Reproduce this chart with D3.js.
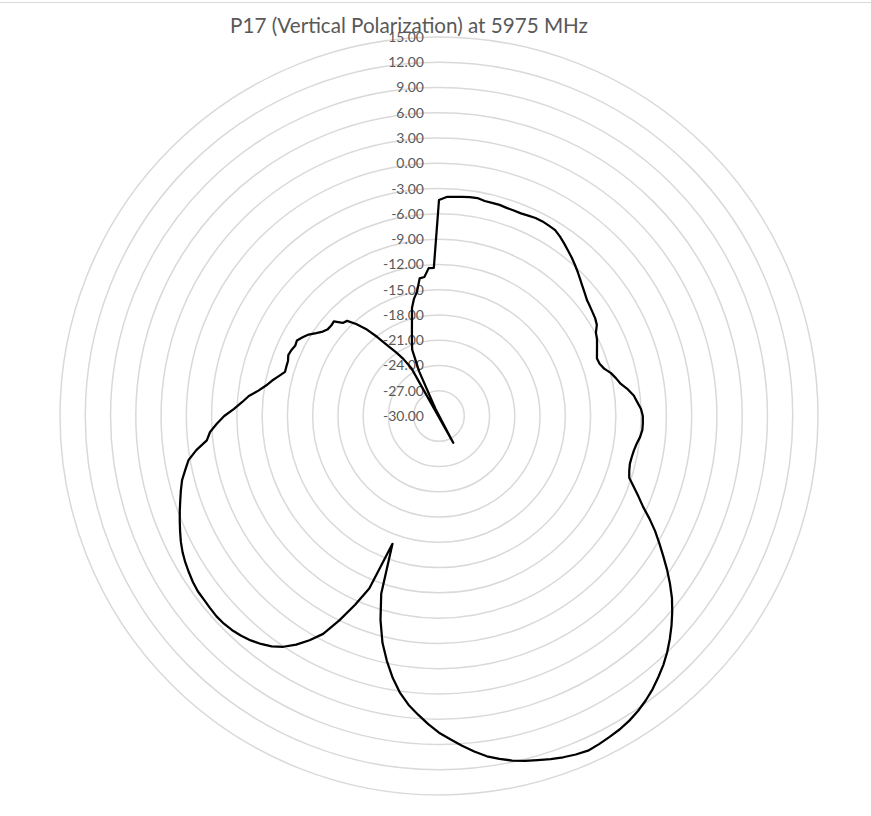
<!DOCTYPE html>
<html>
<head>
<meta charset="utf-8">
<script src="https://cdn.jsdelivr.net/npm/d3@7"></script>
<style>
  body { margin: 0; background: #fff; }
  svg { display: block; }
</style>
</head>
<body>
<svg id="chart" width="871" height="816"></svg>
<script>
// ---------- data ----------
const chartTitle = "P17 (Vertical Polarization) at 5975 MHz";
const tickValues = [-30, -27, -24, -21, -18, -15, -12, -9, -6, -3, 0, 3, 6, 9, 12, 15];
const tickLabels = ["-30.00", "-27.00", "-24.00", "-21.00", "-18.00", "-15.00", "-12.00", "-9.00",
                    "-6.00", "-3.00", "0.00", "3.00", "6.00", "9.00", "12.00", "15.00"];
// azimuth categories (degrees), 2° steps
const angles = d3.range(0, 360, 2);
// gain (dB) per azimuth
const gain = [
  -4.35, -3.98, -3.92, -3.85, -3.76, -3.72, -3.9, -3.93, -3.92, -4.02,
  -4.04, -4.05, -3.95, -3.85, -3.83, -3.9, -3.97, -4.3, -4.7, -5.1,
  -5.47, -5.87, -6.27, -6.68, -7.06, -7.38, -7.69, -7.85, -8.0, -8.13,
  -8.36, -8.9, -9.13, -9.46, -9.77, -10.04, -9.95, -9.6, -8.95, -8.5,
  -8.08, -7.35, -6.75, -6.4, -6.0, -5.8, -5.78, -5.8, -6.0, -6.3,
  -6.5, -6.6, -6.64, -6.5, -6.25, -5.4, -4.45, -3.47, -2.2, -0.95,
  0.2, 1.4, 2.67, 3.9, 5.1, 6.15, 7.15, 8.1, 9.0, 9.8,
  10.5, 11.18, 11.75, 12.25, 12.65, 12.95, 13.15, 13.35, 13.5, 13.35,
  13.12, 12.85, 12.5, 12.2, 11.82, 11.35, 10.8, 10.05, 9.25, 8.4,
  7.6, 6.6, 5.55, 4.5, 3.2, 1.6, -0.25, -2.25, -4.8, -7.8,
  -13.85, -7.9, -5.44, -3.0, -0.7, 0.75, 2.0, 3.05, 3.8, 4.35,
  4.78, 5.1, 5.35, 5.5, 5.55, 5.48, 5.42, 5.4, 5.25, 5.02,
  4.78, 4.48, 4.1, 3.65, 3.2, 2.75, 2.3, 1.88, 1.44, 0.8,
  0.2, -0.9, -2.28, -2.75, -3.6, -4.5, -5.65, -6.55, -7.3, -8.35,
  -9.15, -9.75, -10.4, -10.98, -10.95, -10.92, -10.7, -10.8, -11.0, -10.9,
  -11.3, -11.75, -12.4, -12.95, -13.25, -13.3, -13.2, -14.1, -14.3, -15.3,
  -16.5, -18.1, -19.7, -20.9, -22.0, -23.5, -33.6, -29.0, -24.2, -21.5,
  -20.6, -19.6, -18.35, -16.75, -15.75, -15.0, -13.5, -13.4, -12.4, -12.4
];

// ---------- layout ----------
const W = 871, H = 816;
const cx = 439, cy = 416, R = 379;
const gridColor = "#d9d9d9";
const textColor = "#595959";
const fontFamily = "Lato, 'Open Sans', 'DejaVu Sans', sans-serif";

const svg = d3.select("#chart");

// top border line
svg.append("line")
  .attr("x1", 0).attr("x2", W).attr("y1", 2.5).attr("y2", 2.5)
  .attr("stroke", gridColor).attr("stroke-width", 1);

const rScale = d3.scaleLinear().domain([tickValues[0], tickValues[tickValues.length - 1]]).range([0, R]);
const aScale = d3.scaleLinear().domain([0, 360]).range([0, 2 * Math.PI]);

const g = svg.append("g").attr("transform", `translate(${cx},${cy})`);

// gridline rings
g.append("g").selectAll("circle")
  .data(tickValues.slice(1))
  .join("circle")
  .attr("r", d => rScale(d))
  .attr("fill", "none")
  .attr("stroke", gridColor)
  .attr("stroke-width", 1.5);

// axis labels
const labels = g.append("g").selectAll("text")
  .data(tickValues)
  .join("text")
  .attr("x", -15)
  .attr("y", d => -rScale(d))
  .attr("dy", "0.35em")
  .attr("text-anchor", "end")
  .attr("font-family", fontFamily)
  .attr("font-size", 14)
  .attr("fill", textColor)
  .text((d, i) => tickLabels[i]);

// fit label size to reference width of "-30.00" (~41px)
{
  const n = labels.nodes()[0];
  const len = n.getComputedTextLength();
  if (len > 0) labels.attr("font-size", 14 * 41 / len);
}

// data line
const pts = angles.map((a, i) => [a, gain[i]]);
const line = d3.lineRadial()
  .angle(d => aScale(d[0]))
  .radius(d => rScale(d[1]))
  .curve(d3.curveLinearClosed);

g.append("path")
  .datum(pts)
  .attr("d", line)
  .attr("fill", "none")
  .attr("stroke", "#000")
  .attr("stroke-width", 2.25)
  .attr("stroke-linejoin", "round");

// title
const t = svg.append("text")
  .attr("x", 409)
  .attr("y", 33)
  .attr("text-anchor", "middle")
  .attr("font-family", fontFamily)
  .attr("font-size", 20)
  .attr("fill", textColor)
  .text(chartTitle);
{
  const len = t.node().getComputedTextLength();
  if (len > 0) t.attr("font-size", 20 * 358 / len);
}
</script>
</body>
</html>
